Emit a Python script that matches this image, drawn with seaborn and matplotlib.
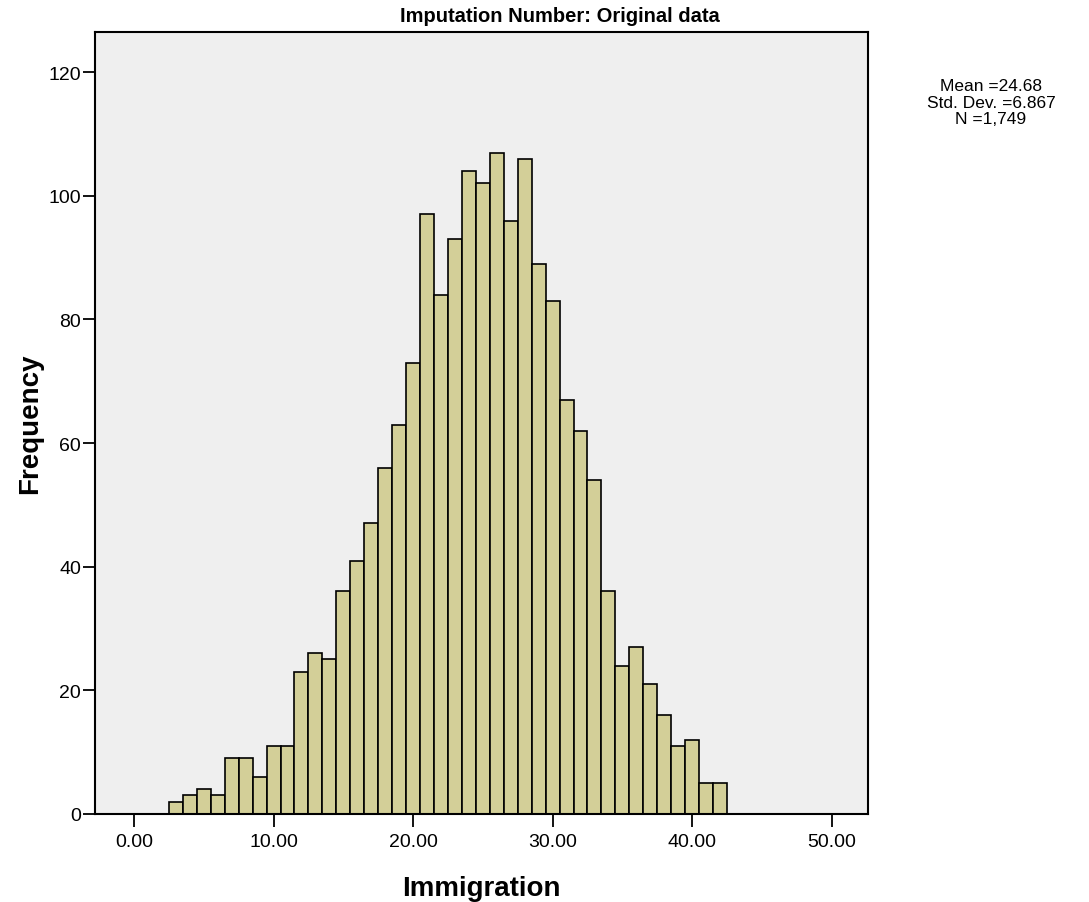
import numpy as np
import seaborn as sns
import matplotlib.pyplot as plt

# histogram counts (bins of width 1, centred 3..42)
bin_centers = list(range(3, 43))
counts = [2, 3, 4, 3, 9, 9, 6, 11, 11, 23,
          26, 25, 36, 41, 47, 56, 63, 73, 97, 84,
          93, 104, 102, 107, 96, 106, 89, 83, 67, 62,
          54, 36, 24, 27, 21, 16, 11, 12, 5, 5]
x_ticks = [0, 10, 20, 30, 40, 50]
y_ticks = [0, 20, 40, 60, 80, 100, 120]

sns.set_style("ticks")
plt.rcParams['font.family'] = ['Liberation Sans', 'DejaVu Sans']
plt.rcParams['text.color'] = 'black'
plt.rcParams['axes.labelcolor'] = 'black'
plt.rcParams['xtick.color'] = 'black'
plt.rcParams['ytick.color'] = 'black'

fig = plt.figure(figsize=(10.89, 9.03), dpi=100)
ax = fig.add_axes([0.0872, 0.0975, 0.7098, 0.866])
ax.set_facecolor('#EFEFEF')

sns.histplot(x=bin_centers, weights=counts, binwidth=1, binrange=(2.5, 42.5),
             color='#D3CF98', edgecolor='black', linewidth=1.2, alpha=1, ax=ax)

ax.set_xlim(-2.8, 52.6)
ax.set_ylim(0, 126.5)
ax.set_xticks(x_ticks)
ax.set_xticklabels([f"{t:.2f}" for t in x_ticks], fontsize=14)
ax.set_yticks(y_ticks)
ax.set_yticklabels([str(t) for t in y_ticks], fontsize=14)
ax.tick_params(direction='out', length=9, width=1.3, color='black', labelcolor='black')
ax.tick_params(axis='y', pad=1)
ax.tick_params(axis='x', pad=5)
for s in ax.spines.values():
    s.set_color('black')
    s.set_linewidth(1.5)
    s.set_visible(True)

ax.set_xlabel("Immigration", fontsize=20, fontweight='bold', labelpad=18)
ax.set_ylabel("Frequency", fontsize=20, fontweight='bold', labelpad=4)

fig.text(560 / 1089, 1 - 17 / 903, "Imputation Number: Original data",
         ha='center', va='center', fontsize=14.5, fontweight='bold')
fig.text(991 / 1089, 1 - 103 / 903, "Mean =24.68\nStd. Dev. =6.867\nN =1,749",
         ha='center', va='center', fontsize=12.5, linespacing=1.15)

fig.savefig("out.png", dpi=100)
